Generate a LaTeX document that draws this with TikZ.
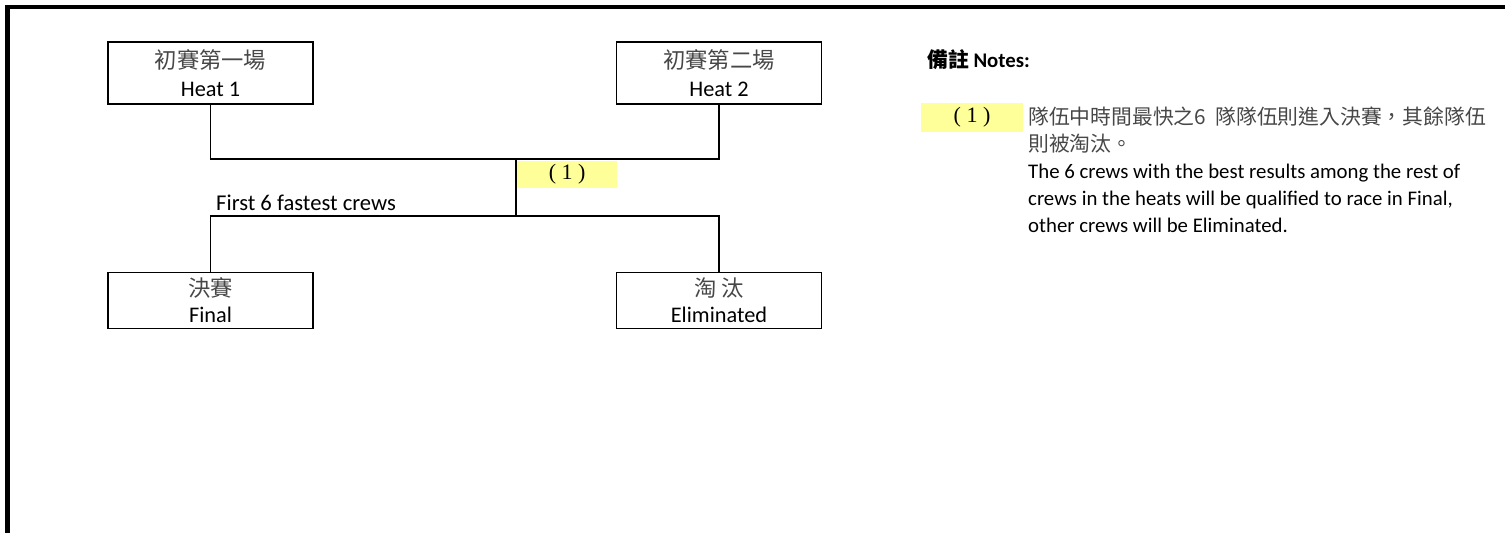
\documentclass[tikz,border=0pt]{standalone}
\usepackage{fontspec}
\setmainfont{Carlito}
\newfontfamily\cjk{Noto Sans CJK TC}
\newfontfamily\tms{Liberation Serif}
\usetikzlibrary{positioning}

\definecolor{notebg}{HTML}{FFFF99}
\newcommand{\zh}[1]{{\cjk\color{black!72}#1}}

\begin{document}
\begin{tikzpicture}[x=1pt,y=-1pt,
    stage/.style={draw, line width=1.7, minimum width=205, minimum height=62,
      inner sep=0, align=center, font=\fontsize{22.3}{28}\selectfont},
    tag/.style={fill=notebg, inner sep=0, font=\tms\fontsize{22}{24}\selectfont},
    link/.style={line width=1.7}]
    \useasboundingbox (0,0) rectangle (1505,533);

    % Frame
    \draw[line width=4.5] (7.5,533) -- (7.5,7) -- (1505,7);

    % Define coordinates
    \coordinate (join) at (516,159);
    \coordinate (split) at (516,216);

    % Stages
    \node[stage] (heat1) at (210.5,73) {\zh{初賽第一場}\\Heat 1};
    \node[stage] (heat2) at (719,73) {\zh{初賽第二場}\\Heat 2};
    \node[stage, minimum height=56, font=\fontsize{22.3}{26}\selectfont] (final) at (210.5,300.5) {\zh{決賽}\\Final};
    \node[stage, minimum height=56, font=\fontsize{22.3}{26}\selectfont] (elim) at (719,300.5) {\zh{淘\ 汰}\\Eliminated};

    % Connectors
    \draw[link] (heat1) |- (join) -| (heat2);
    \draw[link] (join) -- (split);
    \draw[link] (final) |- (split) -| (elim);

    % Labels
    \node[tag, minimum width=100, minimum height=27, anchor=north west, xshift=1, yshift=-2] (mark) at (join) {( 1 )};
    \node[anchor=base west, inner sep=0, font=\fontsize{22.6}{26}\selectfont] (best) at (216,210) {First 6 fastest crews};

    % Notes
    \node[anchor=west, inner sep=0, font=\bfseries\fontsize{20.8}{26}\selectfont] (head) at (927,60) {{\cjk 備註} Notes:};
    \node[tag, minimum width=102, minimum height=29] (num) at (972,117.5) {( 1 )};
    \node[anchor=north west, inner sep=0, align=left, font=\fontsize{20.8}{27}\selectfont] (note) at (1028,107)
      {\zh{隊伍中時間最快之6\ \ 隊隊伍則進入決賽，其餘隊伍}\\
       \zh{則被淘汰。}\\
       The 6 crews with the best results among the rest of\\
       crews in the heats will be qualified to race in Final,\\
       other crews will be Eliminated.};
\end{tikzpicture}
\end{document}
